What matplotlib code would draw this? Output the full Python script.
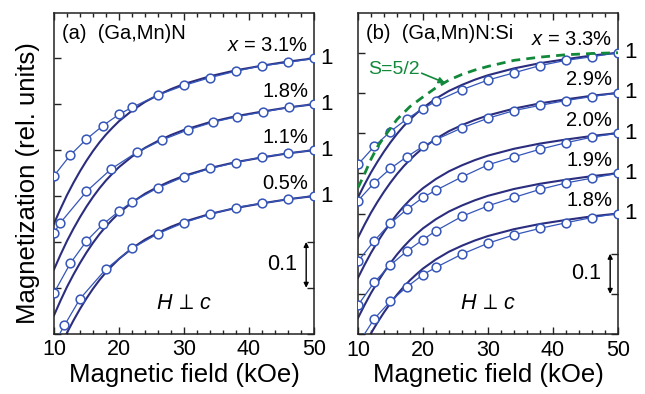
import matplotlib
matplotlib.use("Agg")
import matplotlib.pyplot as plt
from matplotlib.ticker import MultipleLocator, NullFormatter

plt.rcParams['font.family'] = ['Liberation Sans', 'DejaVu Sans']
plt.rcParams['mathtext.fontset'] = 'custom'
plt.rcParams['mathtext.rm'] = 'Liberation Sans'
plt.rcParams['mathtext.it'] = 'Liberation Sans:italic'
plt.rcParams['mathtext.fallback'] = 'stixsans'

# ---- (a) (Ga,Mn)N : normalised magnetization, M(H)/M(50 kOe)
field_a31 = [10, 12.5, 15, 17.5, 20, 22, 26, 30, 34, 38, 42, 46, 50]
mag_a31 = [0.744, 0.789, 0.824, 0.853, 0.878, 0.893, 0.920, 0.941, 0.958, 0.972, 0.984, 0.991, 1.0]
field_a18 = [10, 11, 15, 18.8, 22.7, 26.6, 30.6, 34.5, 38.2, 42.1, 46.1, 50]
mag_a18 = [0.720, 0.742, 0.810, 0.859, 0.895, 0.922, 0.944, 0.961, 0.973, 0.983, 0.993, 1.0]
field_a11 = [10, 12.5, 15, 17.5, 20, 22, 26, 30, 34, 38, 42, 46, 50]
mag_a11 = [0.689, 0.753, 0.802, 0.838, 0.867, 0.887, 0.918, 0.942, 0.960, 0.973, 0.985, 0.993, 1.0]
field_a05 = [10, 11.6, 14, 18, 22, 26, 30, 34, 38, 42, 46, 50]
mag_a05 = [0.678, 0.718, 0.776, 0.841, 0.886, 0.918, 0.942, 0.960, 0.975, 0.984, 0.993, 1.0]
labels_a = ["$x$ = 3.1%", "1.8%", "1.1%", "0.5%"]

# ---- (b) (Ga,Mn)N:Si
field_b = [10, 12.5, 15, 17.5, 20, 22, 26, 30, 34, 38, 42, 46, 50]
mag_b33 = [0.722, 0.767, 0.804, 0.835, 0.861, 0.879, 0.908, 0.932, 0.950, 0.968, 0.981, 0.990, 1.0]
mag_b29 = [0.732, 0.776, 0.812, 0.841, 0.867, 0.884, 0.913, 0.937, 0.956, 0.969, 0.981, 0.991, 1.0]
mag_b20 = [0.681, 0.732, 0.776, 0.810, 0.840, 0.858, 0.891, 0.921, 0.941, 0.960, 0.976, 0.990, 1.0]
mag_b19 = [0.672, 0.729, 0.772, 0.806, 0.835, 0.857, 0.893, 0.919, 0.940, 0.960, 0.976, 0.988, 1.0]
mag_b18 = [0.675, 0.738, 0.782, 0.817, 0.848, 0.866, 0.899, 0.926, 0.947, 0.963, 0.977, 0.990, 1.0]
labels_b = ["$x$ = 3.3%", "2.9%", "2.0%", "1.9%", "1.8%"]

# model curve (normalised) drawn through every data set
fit_field = [10, 11, 12, 13, 14, 15, 16, 17, 18, 19, 20, 22, 24, 26, 28, 30, 34, 38, 42, 46, 50]
fit_norm = [0.640, 0.672, 0.702, 0.729, 0.754, 0.777, 0.798, 0.817, 0.834, 0.849, 0.863,
            0.886, 0.905, 0.920, 0.933, 0.944, 0.961, 0.974, 0.984, 0.993, 1.0]

# free-ion S=5/2 Brillouin curve for x = 3.3%
s52_field = [10, 11, 12, 13, 14, 15, 16, 18, 20, 22, 24, 26, 28, 30, 34, 38, 42, 46, 50]
s52_norm = [0.664, 0.698, 0.735, 0.766, 0.790, 0.812, 0.834, 0.866, 0.890, 0.913, 0.932,
            0.946, 0.957, 0.966, 0.981, 0.989, 0.995, 0.998, 1.0]

STEP = 0.1
DATA_C = '#3556b8'
FIT_C = '#2b2d7e'
GREEN = '#12893a'

fig = plt.figure(figsize=(6.45, 3.94), dpi=100)
ax_a = fig.add_axes([0.0837, 0.153, 0.4031, 0.814])
ax_b = fig.add_axes([0.555, 0.152, 0.4031, 0.815])


def style_axis(ax, ybottom):
    ax.set_xlim(10, 50)
    ax.set_ylim(ybottom, 1.0988)
    ax.xaxis.set_major_locator(MultipleLocator(10))
    ax.xaxis.set_minor_locator(MultipleLocator(2))
    ax.yaxis.set_major_locator(MultipleLocator(0.1))
    ax.yaxis.set_major_formatter(NullFormatter())
    ax.tick_params(which='both', direction='in', top=True, right=True, width=1.0, colors='#222222')
    ax.tick_params(which='major', length=5, labelsize=15.5, pad=4)
    ax.tick_params(which='minor', length=3)
    ax.tick_params(axis='x', labelcolor='black')
    for s in ax.spines.values():
        s.set_linewidth(1.1)
        s.set_color('#222222')
    ax.set_xlabel("Magnetic field (kOe)", fontsize=18.5, labelpad=2)


def draw_series(ax, fields, mags, labels):
    for i, (h, m, lab) in enumerate(zip(fields, mags, labels)):
        off = STEP * i
        ax.plot(fit_field, [v - off for v in fit_norm], color=FIT_C, lw=1.5, zorder=2)
        ax.plot(h, [v - off for v in m], color=DATA_C, lw=0.9, marker='o', ms=6.3,
                mfc='white', mec=DATA_C, mew=1.1, zorder=3)
        end = m[-1] - off
        ax.annotate(lab, xy=(49.1, end), xytext=(0, 2.5), textcoords='offset points',
                    ha='right', va='bottom', fontsize=14.5)
        ax.annotate('1', xy=(50, end), xytext=(4.5, 0), textcoords='offset points',
                    ha='left', va='center', fontsize=16, annotation_clip=False)


style_axis(ax_a, 0.4)
style_axis(ax_b, 0.3)

draw_series(ax_a, [field_a31, field_a18, field_a11, field_a05],
            [mag_a31, mag_a18, mag_a11, mag_a05], labels_a)
draw_series(ax_b, [field_b] * 5, [mag_b33, mag_b29, mag_b20, mag_b19, mag_b18], labels_b)

ax_b.plot(s52_field, s52_norm, color=GREEN, lw=2.0, ls=(0, (3.2, 2.2)), zorder=4)
ax_b.annotate('', xy=(23.4, 0.925), xytext=(19.8, 0.949),
              arrowprops=dict(arrowstyle='-|>', color=GREEN, lw=1.2, mutation_scale=9,
                              shrinkA=0, shrinkB=0))
ax_b.text(11.5, 0.959, "S=5/2", color=GREEN, fontsize=14, ha='left', va='center')

ax_a.set_ylabel("Magnetization (rel. units)", fontsize=18.5)
ax_a.yaxis.set_label_coords(-0.054, 0.47)

ax_a.text(0.03, 0.935, "(a)  (Ga,Mn)N", transform=ax_a.transAxes, fontsize=14.5,
          ha='left', va='center')
ax_b.text(0.03, 0.935, "(b)  (Ga,Mn)N:Si", transform=ax_b.transAxes, fontsize=14.5,
          ha='left', va='center')

# 0.1 scale bars and field orientation
for ax, y0, yt in [(ax_a, 0.5, 0.55), (ax_b, 0.4, 0.45)]:
    ax.annotate('', xy=(48.8, y0 + STEP), xytext=(48.8, y0),
                arrowprops=dict(arrowstyle='<|-|>', color='black', lw=1.0,
                                mutation_scale=7, shrinkA=0, shrinkB=0))
    ax.text(47.4, yt, "0.1", fontsize=15.5, ha='right', va='center')
    ax.text(0.5, 0.095, r"$H\,\perp\,c$", transform=ax.transAxes, fontsize=15.5,
            ha='center', va='center')

fig.savefig("out.png", dpi=100)
